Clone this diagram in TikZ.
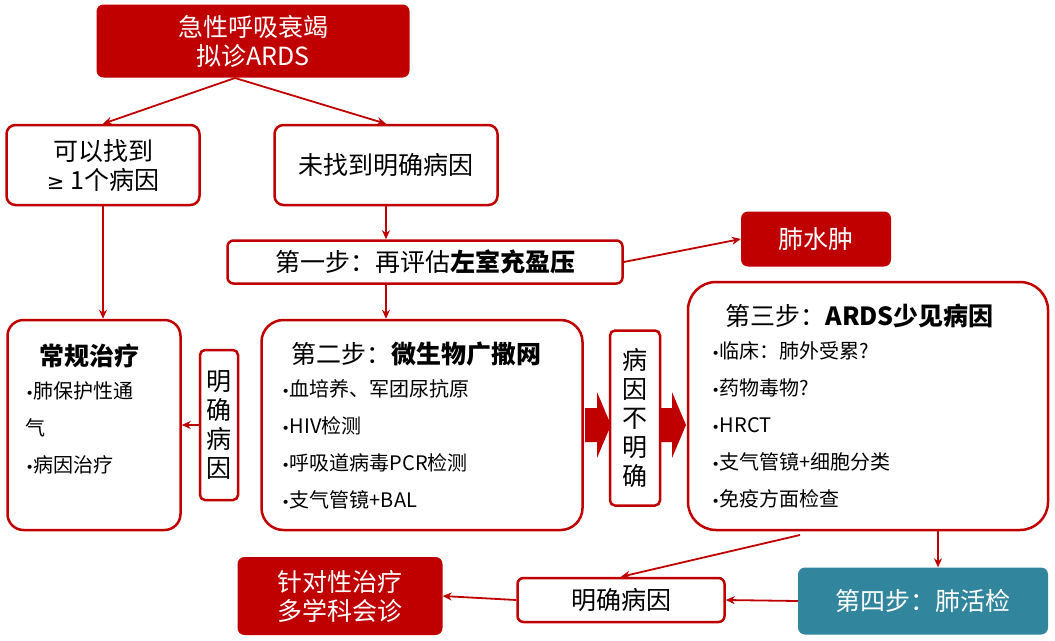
\documentclass[tikz,border=0pt]{standalone}
\usepackage{fontspec}
\setmainfont{Noto Sans CJK SC}
\newfontfamily\dejavu{DejaVu Sans}
\usetikzlibrary{positioning, arrows.meta}
\definecolor{dred}{HTML}{C00000}
\definecolor{teal4}{HTML}{31859C}
\newcommand{\dotb}{{\dejavu\fontsize{14}{14}\selectfont •}}
\tikzset{
  box/.style={draw=dred, line width=2.5pt, rounded corners=9pt, fill=white, align=center, inner sep=0pt},
  redbox/.style={fill=dred, rounded corners=7pt, text=white, align=center, inner sep=0pt},
  arr/.style={-{Stealth[length=9pt,width=8pt]}, draw=dred, line width=1.8pt},
  big/.style={font=\fontsize{25}{29}\selectfont},
  small/.style={font=\fontsize{20}{37}\selectfont}
}
\begin{document}
\begin{tikzpicture}[x=1pt,y=-1pt]
  \useasboundingbox (0,0) rectangle (1055,640);
  % boxes
  \node[redbox, big, minimum width=313pt, minimum height=73pt] (top) at (253,41) {急性呼吸衰竭\\拟诊ARDS};
  \node[box, big, minimum width=193pt, minimum height=80pt] (found) at (103,165) {可以找到\\{\dejavu\fontsize{21}{21}\selectfont ≥} 1个病因};
  \node[box, big, minimum width=223pt, minimum height=80pt] (notfound) at (386,165) {未找到明确病因};
  \node[box, big, rounded corners=6pt, minimum width=395pt, minimum height=43pt] (step1) at (425,262) {第一步：再评估\textbf{左室充盈压}};
  \node[redbox, big, minimum width=150pt, minimum height=55pt] (edema) at (816,239) {肺水肿};
  \node[box, minimum width=173pt, minimum height=210pt, rounded corners=16pt] (routine) at (94,425) {};
  \node[box, big, rounded corners=5pt, minimum width=38pt, minimum height=150pt] (clear1) at (219,425) {明\\确\\病\\因};
  \node[box, minimum width=321pt, minimum height=210pt, rounded corners=22pt] (step2) at (422,425) {};
  \node[box, big, rounded corners=5pt, minimum width=50pt, minimum height=175pt] (unclear) at (635,418) {病\\因\\不\\明\\确};
  \node[box, minimum width=360pt, minimum height=248pt, rounded corners=28pt] (step3) at (868,406) {};
  \node[redbox, big, minimum width=205pt, minimum height=78pt] (target) at (340,596) {针对性治疗\\多学科会诊};
  \node[box, big, rounded corners=6pt, minimum width=207pt, minimum height=44pt] (clear2) at (621,600) {明确病因};
  \node[fill=teal4, rounded corners=7pt, text=white, big, minimum width=250pt, minimum height=67pt] (biopsy) at (923,601) {第四步：肺活检};
  % box texts
  \node[anchor=north west, align=left, small, text width=150pt] at (22,340)
    {{\fontsize{25}{29}\selectfont\hspace*{14pt}\textbf{常规治疗}}\\[-4pt]\dotb 肺保护性通\\气\\\dotb 病因治疗};
  \node[anchor=north west, align=left, small] at (278,338)
    {{\fontsize{25}{29}\selectfont\hspace*{10pt}第二步：\textbf{微生物广撒网}}\\[-4pt]\dotb 血培养、军团尿抗原\\\dotb HIV检测\\\dotb 呼吸道病毒PCR检测\\\dotb 支气管镜+BAL};
  \node[anchor=north west, align=left, small] at (708,300)
    {{\fontsize{25}{29}\selectfont\hspace*{14pt}第三步：\textbf{ARDS少见病因}}\\[-4pt]\dotb 临床：肺外受累?\\\dotb 药物毒物?\\\dotb HRCT\\\dotb 支气管镜+细胞分类\\\dotb 免疫方面检查};
  % block arrows
  \fill[dred] (585,408) -- (597,408) -- (597,392) -- (611,425) -- (597,458) -- (597,442) -- (585,442) -- cycle;
  \fill[dred] (660,408) -- (672,408) -- (672,392) -- (686,425) -- (672,458) -- (672,442) -- (660,442) -- cycle;
  % connectors
  \coordinate (t0) at (235,78);
  \draw[arr] (t0) -- (found.north);
  \draw[arr] (t0) -- (notfound.north);
  \draw[arr] (found.south) -- (routine.north -| found.south);
  \draw[arr] (notfound.south) -- (step1.north -| notfound.south);
  \draw[arr] (step1.south -| notfound.south) -- (step2.north -| notfound.south);
  \draw[arr] (step1.east) -- (edema.west);
  \draw[arr] (clear1.west) -- (routine.east);
  \coordinate (s3a) at (800,535);
  \draw[arr] (s3a) -- (clear2.north);
  \draw[arr] (step3.south -| 938,0) -- (biopsy.north -| 938,0);
  \draw[arr] (biopsy.west) -- (clear2.east);
  \draw[arr] (clear2.west) -- (target.east);
\end{tikzpicture}
\end{document}
